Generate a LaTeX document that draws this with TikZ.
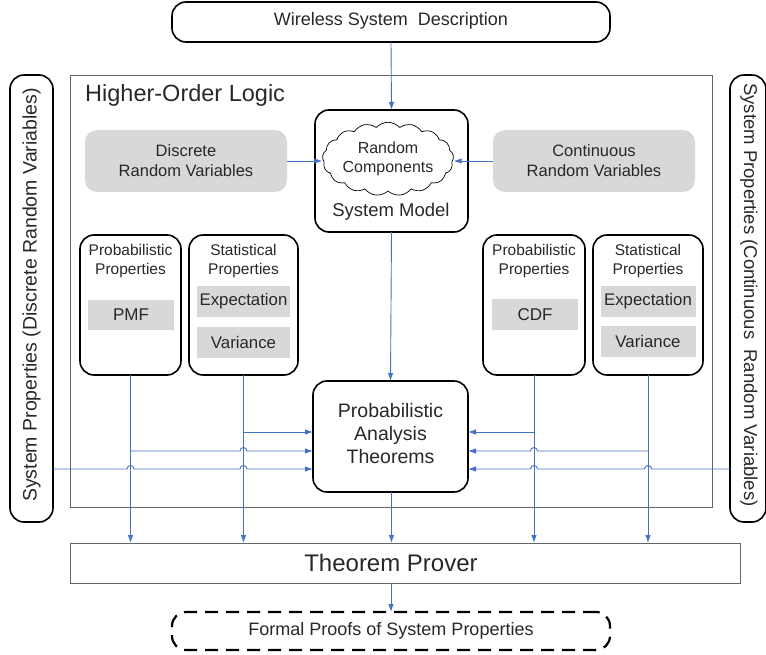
\documentclass[tikz,border=0pt]{standalone}
\usepackage{fontspec}
\setmainfont{Liberation Sans}
\usetikzlibrary{shapes.symbols,arrows.meta,calc}
\definecolor{arrowblue}{RGB}{68,114,196}
\definecolor{boxgray}{RGB}{216,216,216}
\definecolor{framegray}{RGB}{100,100,100}
\definecolor{txt}{RGB}{40,40,40}
\newcommand{\fsz}[1]{\fontsize{#1}{#1}\selectfont}
\tikzset{
  rbox/.style={draw=black, line width=1.6pt, rounded corners=14pt, inner sep=0pt, outer sep=0pt},
  gbox/.style={fill=boxgray, rounded corners=12pt, inner sep=0pt, outer sep=0pt, align=center, text=txt},
  gsq/.style={fill=boxgray, inner sep=0pt, outer sep=0pt, text=txt},
  framebox/.style={draw=framegray, line width=0.9pt, inner sep=0pt, outer sep=0pt},
  arr/.style={draw=arrowblue, line width=0.9pt, -{Latex[length=8pt,width=5.5pt]}},
  lbl/.style={inner sep=0pt, align=center, text=txt},
}
\begin{document}
\begin{tikzpicture}[x=1pt,y=-1pt]
\useasboundingbox (0,0) rectangle (766,655);
% top and bottom boxes
\node[rbox, minimum width=438pt, minimum height=40pt] (wsd) at (391,22) {};
\node[lbl, font={\fontsize{18}{21}\selectfont}] (wsdt) at (391,21) {Wireless System\ \ Description};
\node[rbox, dash pattern=on 13pt off 8pt, line width=2.2pt, minimum width=438pt, minimum height=38pt] (fp) at (391,631) {};
\node[lbl, font={\fontsize{18}{21}\selectfont}] (fpt) at (391,631) {Formal Proofs of System Properties};
% big frame
\node[framebox, minimum width=642pt, minimum height=432pt] (hol) at (391,291) {};
\node[lbl, anchor=west, font={\fontsize{23.5}{27}\selectfont}] (holt) at (85,95) {Higher-Order Logic};
% theorem prover
\node[framebox, minimum width=670pt, minimum height=40pt] (tp) at (405,563) {};
\node[lbl, font={\fontsize{24}{28}\selectfont}] (tpt) at (391,563) {Theorem Prover};
% side boxes
\node[rbox, minimum width=43pt, minimum height=447pt] (sl) at (31.5,298.5) {};
\node[lbl, rotate=90, font={\fontsize{19.5}{23}\selectfont}] (slt) at (31.5,295) {System Properties (Discrete Random Variables)};
\node[rbox, minimum width=36pt, minimum height=447pt] (sr) at (748,298.5) {};
\node[lbl, rotate=-90, font={\fontsize{18.5}{22}\selectfont}] (srt) at (749,295) {System Properties (Continuous\ \ Random Variables)};
% random variables
\node[gbox, minimum width=202pt, minimum height=62pt, font={\fontsize{16.5}{20}\selectfont}] (drv) at (186,161) {Discrete\\ Random Variables};
\node[gbox, minimum width=202pt, minimum height=62pt, font={\fontsize{16.5}{20}\selectfont}] (crv) at (594,161) {Continuous\\ Random Variables};
% system model
\node[rbox, minimum width=153pt, minimum height=122pt] (sm) at (391.5,171) {};
\node[draw=black, line width=0.7pt, shape=cloud, cloud puffs=17, cloud puff arc=95, aspect=2.0, minimum width=122pt, minimum height=62pt, inner sep=0pt, align=center, text=txt, font={\fontsize{16}{19}\selectfont}] (rc) at (388,159) {Random\\ Components};
\node[lbl, font={\fontsize{18.5}{22}\selectfont}] (smt) at (391,212) {System Model};
% property boxes left
\node[rbox, minimum width=101pt, minimum height=140pt] (ppl) at (130.5,305) {};
\node[lbl, font={\fontsize{15.5}{19}\selectfont}] (pplt) at (130.5,261) {Probabilistic\\ Properties};
\node[gsq, minimum width=86pt, minimum height=30pt, font={\fontsize{17}{20}\selectfont}] (pmf) at (131,315) {PMF};
\node[rbox, minimum width=109pt, minimum height=140pt] (stl) at (243.5,305) {};
\node[lbl, font={\fontsize{15.5}{19}\selectfont}] (stlt) at (243.5,261) {Statistical\\ Properties};
\node[gsq, minimum width=93pt, minimum height=31pt, font={\fontsize{16.8}{20}\selectfont}] (exl) at (243.5,301.5) {Expectation};
\node[gsq, minimum width=93pt, minimum height=31pt, font={\fontsize{16.8}{20}\selectfont}] (val) at (243.5,342.5) {Variance};
% property boxes right
\node[rbox, minimum width=102pt, minimum height=140pt] (ppr) at (534,305) {};
\node[lbl, font={\fontsize{15.5}{19}\selectfont}] (pprt) at (534,261) {Probabilistic\\ Properties};
\node[gsq, minimum width=86pt, minimum height=31pt, font={\fontsize{17}{20}\selectfont}] (cdf) at (535,314.5) {CDF};
\node[rbox, minimum width=110pt, minimum height=140pt] (str) at (648,305) {};
\node[lbl, font={\fontsize{15.5}{19}\selectfont}] (strt) at (648,261) {Statistical\\ Properties};
\node[gsq, minimum width=95pt, minimum height=31pt, font={\fontsize{16.8}{20}\selectfont}] (exr) at (648,301.5) {Expectation};
\node[gsq, minimum width=95pt, minimum height=31pt, font={\fontsize{16.8}{20}\selectfont}] (var) at (648,341.5) {Variance};
% analysis theorems
\node[rbox, minimum width=155pt, minimum height=111pt] (pat) at (390.5,436.5) {};
\node[lbl, font={\fontsize{19.5}{23}\selectfont}] (patt) at (390.5,434) {Probabilistic\\ Analysis\\ Theorems};
% vertical arrows on the centre line
\draw[arr] (wsd.south) -- (sm.north);
\draw[arr] (drv.east) -- (rc.west |- drv.east);
\draw[arr] (crv.west) -- (rc.east |- crv.west);
\draw[arr] (sm.south) -- (pat.north);
\draw[arr] ($(pat.south)+(1,0)$) -- ($(tp.north -| pat.south)+(1,0)$);
\draw[arr] (tp.south -| wsd.south) -- (fp.north);
% vertical arrows from property boxes
\draw[arr] (ppl.south) -- (ppl.south |- tp.north);
\draw[arr] (stl.south) -- (stl.south |- tp.north);
\draw[arr] (ppr.south) -- (ppr.south |- tp.north);
\draw[arr] (str.south) -- (str.south |- tp.north);
% horizontal arrows into analysis theorems
\coordinate (ya) at (0,432);
\coordinate (yb) at (0,451);
\coordinate (yc) at (0,469);
\draw[arr] (stl.south |- ya) -- (pat.west |- ya);
\draw[arr] (ppl.south |- yb) -- ($(stl.south |- yb)+(-3.5pt,0)$) arc[start angle=180,end angle=0,radius=3.5pt] -- (pat.west |- yb);
\draw[arr] (sl.east |- yc) -- ($(ppl.south |- yc)+(-3.5pt,0)$) arc[start angle=180,end angle=0,radius=3.5pt] -- ($(stl.south |- yc)+(-3.5pt,0)$) arc[start angle=180,end angle=0,radius=3.5pt] -- (pat.west |- yc);
\draw[arr] (ppr.south |- ya) -- (pat.east |- ya);
\draw[arr] (str.south |- yb) -- ($(ppr.south |- yb)+(3.5pt,0)$) arc[start angle=0,end angle=180,radius=3.5pt] -- (pat.east |- yb);
\draw[arr] (sr.west |- yc) -- ($(str.south |- yc)+(3.5pt,0)$) arc[start angle=0,end angle=180,radius=3.5pt] -- ($(ppr.south |- yc)+(3.5pt,0)$) arc[start angle=0,end angle=180,radius=3.5pt] -- (pat.east |- yc);
\end{tikzpicture}
\end{document}
